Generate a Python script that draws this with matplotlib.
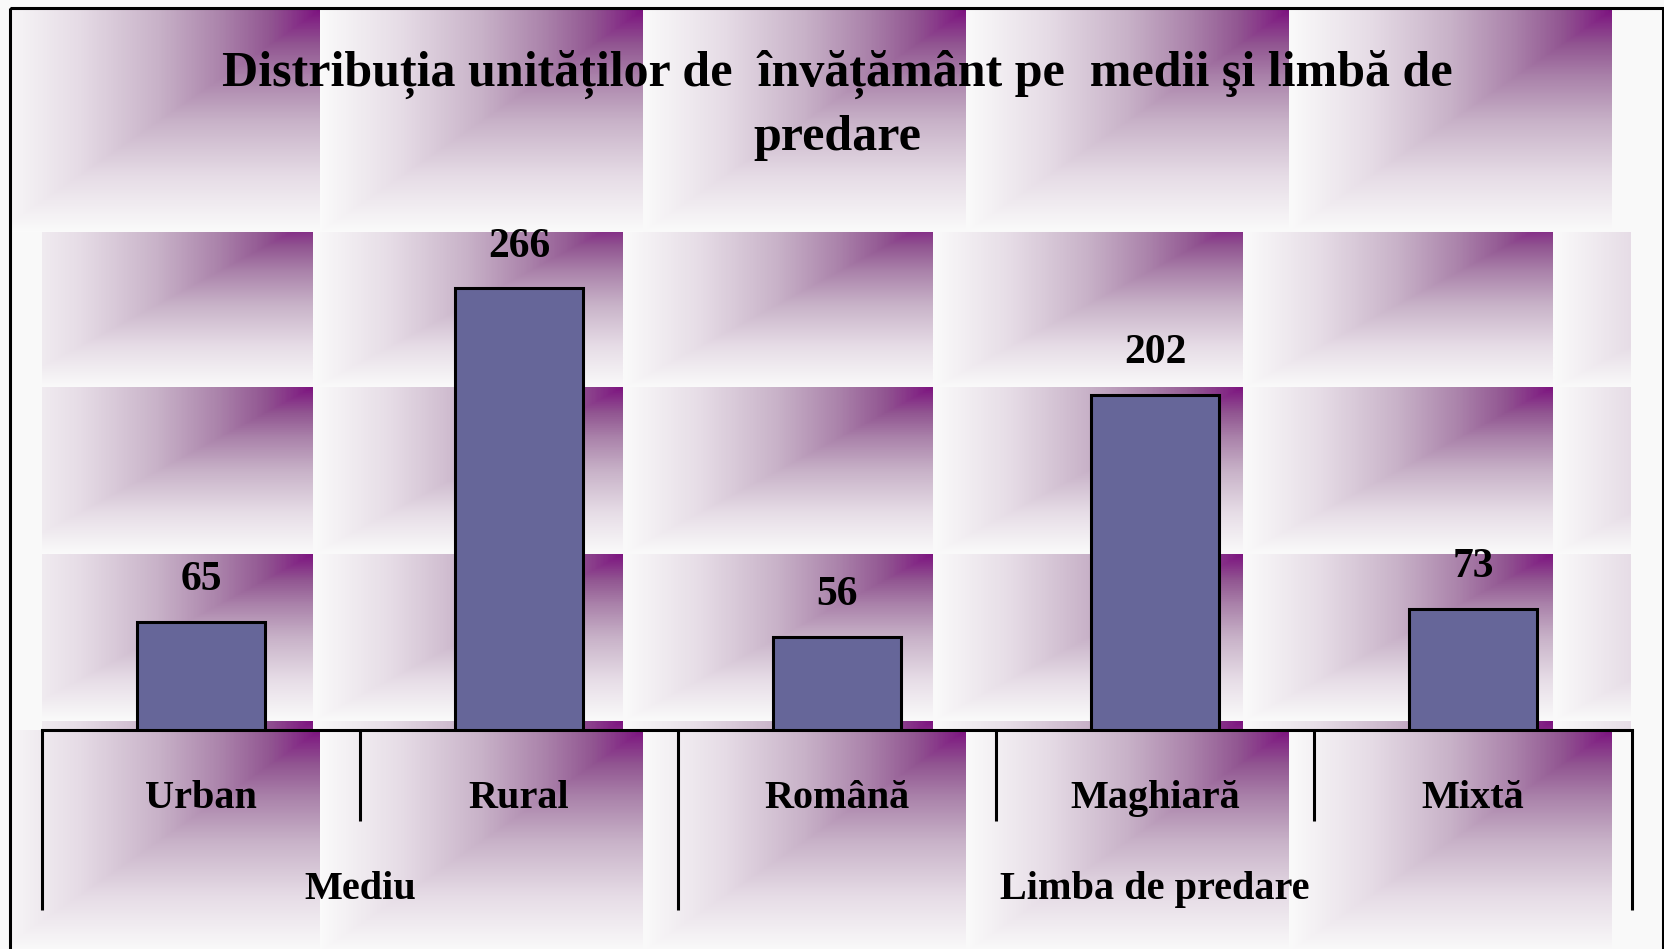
import numpy as np
import matplotlib
matplotlib.use('Agg')
import matplotlib.pyplot as plt
from matplotlib.patches import Rectangle
from matplotlib.colors import LinearSegmentedColormap

categories = ['Urban', 'Rural', 'Română', 'Maghiară', 'Mixtă']
values = [65, 266, 56, 202, 73]
groups = ['Mediu', 'Limba de predare']
group_sizes = [2, 3]
title = 'Distribuția unităților de  învățământ pe  medii şi limbă de\npredare'

W, H = 1665, 949
FONT = 'Liberation Serif'

# white -> greyish mauve -> purple, like the office preset fill
grad = LinearSegmentedColormap.from_list('tile', [
    (0.0, (250/255, 250/255, 250/255)),
    (0.25, (230/255, 220/255, 230/255)),
    (0.5, (200/255, 178/255, 200/255)),
    (0.7, (170/255, 130/255, 170/255)),
    (0.85, (145/255, 85/255, 145/255)),
    (1.0, (125/255, 20/255, 128/255)),
])


def make_tile(w, h):
    # upper-left triangle follows x, lower-right triangle follows y
    u = np.linspace(0, 1, int(w))[None, :]
    v = np.linspace(1, 0, int(h))[:, None]
    return grad(np.minimum(u, v))[..., :3]


def tile_region(ax, x0, y0, tw, th, left, top, right, bottom):
    clip = Rectangle((left, top), right - left, bottom - top, transform=ax.transData)
    img = make_tile(tw, th)
    x = x0
    while x < right:
        y = y0
        while y < bottom:
            if x + tw > left and y + th > top:
                im = ax.imshow(img, extent=(x, x + tw, y + th, y), interpolation='bilinear')
                im.set_clip_path(clip)
            y += th
        x += tw


fig = plt.figure(figsize=(W / 100, H / 100), dpi=100)

bg = fig.add_axes([0, 0, 1, 1])
bg.set_xlim(0, W)
bg.set_ylim(H, 0)
bg.axis('off')
bg.add_patch(Rectangle((0, 0), W, H, color='#f9f9f9', zorder=0))

# title band, plot band, category band
tile_region(bg, -3, 10, 323, 222, 10, 10, 1612, 232)
tile_region(bg, 2.6, 220.5, 310, 167, 42, 232, 1630, 730)
tile_region(bg, -3, 730, 323, 222, 10, 730, 1612, H)
bg.set_xlim(0, W)
bg.set_ylim(H, 0)
bg.add_patch(Rectangle((10, 8), 1653, 1000, fill=False, edgecolor='black', linewidth=2.2, zorder=5))

fig.text(837 / W, 1 - 50 / H, title, ha='center', va='top', fontsize=36, fontweight='bold',
         family=FONT, linespacing=1.45)

ax = fig.add_axes([42 / W, 1 - 730 / H, 1590 / W, 498 / H])
ax.patch.set_visible(False)
x = np.arange(len(categories))
ax.bar(x, values, width=0.4, color='#666699', edgecolor='black', linewidth=2.2, zorder=3)
ax.set_xlim(-0.5, len(categories) - 0.5)
ax.set_ylim(0, 300)
ax.set_xticks([])
ax.set_yticks([])
for s in ['top', 'left', 'right']:
    ax.spines[s].set_visible(False)
ax.spines['bottom'].set_linewidth(2.2)

for i, v in enumerate(values):
    ax.annotate(str(v), (i, v), xytext=(0, 30), textcoords='offset points', ha='center', va='center',
                fontsize=30, fontweight='bold', family=FONT)

tr = ax.get_xaxis_transform()
for i, c in enumerate(categories):
    ax.text(i, -0.137, c, transform=tr, ha='center', va='center', fontsize=29, fontweight='bold',
            family=FONT)

bounds = np.concatenate([[0], np.cumsum(group_sizes)]) - 0.5
for b in np.arange(-0.5, len(categories)):
    depth = -0.3614 if b in bounds else -0.1827
    ax.plot([b, b], [0, depth], transform=tr, color='black', linewidth=2.2, clip_on=False,
            solid_capstyle='butt')
for g, lo, hi in zip(groups, bounds[:-1], bounds[1:]):
    ax.text((lo + hi) / 2, -0.32, g, transform=tr, ha='center', va='center', fontsize=29,
            fontweight='bold', family=FONT)

fig.savefig('out.png', dpi=100)
